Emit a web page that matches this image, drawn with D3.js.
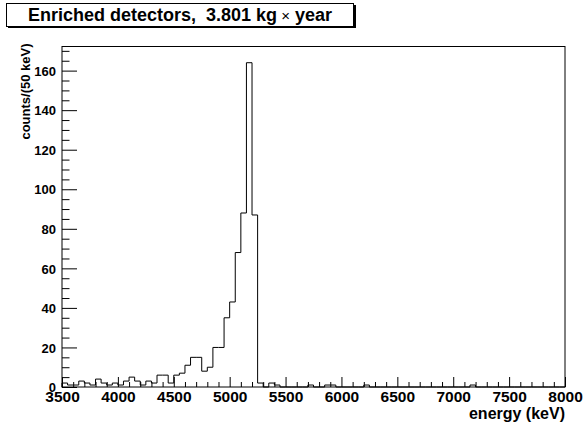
<!DOCTYPE html>
<html>
<head>
<meta charset="utf-8">
<script src="https://cdn.jsdelivr.net/npm/d3@7"></script>
<style>
  body { margin: 0; background: #fff; }
  text { font-family: "Liberation Sans", Arial, Helvetica, sans-serif; font-weight: bold; fill: #000; }
</style>
</head>
<body>
<script>
var svgWidth = 585;
var svgHeight = 424;

// frame edges (ROOT pad frame)
var frame = { left: 62, right: 565, top: 46.5, bottom: 387 };

// histogram: 50 keV bins starting at 3500 keV
var binStart = 3500;
var binWidth = 50;
var counts = [
    2, 1, 1, 3, 2, 1, 4, 2, 1, 2,        // 3500 - 3950
    1, 3, 5, 3, 1, 3, 2, 6, 6, 2,        // 4000 - 4450
    6, 7, 11, 15, 15, 8, 10, 20, 20, 35, // 4500 - 4950
    43, 68, 88, 164, 87, 2, 0, 2, 1, 0,  // 5000 - 5450
    0, 0, 0, 0, 1, 0, 0, 1, 1, 0,        // 5500 - 5950
    0, 0, 0, 0, 1, 0, 0, 0, 0, 0,        // 6000 - 6450
    0, 0, 0, 0, 0, 0, 0, 0, 0, 0,        // 6500 - 6950
    0, 0, 0, 1, 0, 0, 0, 0, 0, 0,        // 7000 - 7450
    0, 0, 0, 0, 0, 0, 0, 0, 0, 0         // 7500 - 7950
];

var xMajorTicks = [3500, 4000, 4500, 5000, 5500, 6000, 6500, 7000, 7500, 8000];
var yMajorTicks = [0, 20, 40, 60, 80, 100, 120, 140, 160];

var titleText = "Enriched detectors,  3.801 kg";
var titleTail = " year";
var xTitle = "energy (keV)";
var yTitle = "counts/(50 keV)";

var svg = d3.select("body")
            .append("svg")
            .attr("width", svgWidth)
            .attr("height", svgHeight);

var xScale = d3.scaleLinear()
               .domain([3500, 8000])
               .range([frame.left, frame.right]);

var yScale = d3.scaleLinear()
               .domain([0, d3.max(counts) * 1.05])
               .range([frame.bottom, frame.top]);

// minor ticks
var xMinor = d3.range(3500, 8001, 100).filter(v => v % 500 !== 0);
var yMinor = d3.range(0, yScale.domain()[1], 5).filter(v => v % 20 !== 0);

var xAxisG = svg.append("g")
                .attr("transform", `translate(0, ${frame.bottom})`);
xAxisG.append("g")
      .call(d3.axisBottom(xScale).tickValues(xMinor).tickSize(-5).tickFormat(""));
xAxisG.append("g")
      .attr("class", "xmajor")
      .call(d3.axisBottom(xScale).tickValues(xMajorTicks).tickSize(-10).tickPadding(5).tickFormat(d3.format("d")));

var yAxisG = svg.append("g")
                .attr("transform", `translate(${frame.left}, 0)`);
yAxisG.append("g")
      .call(d3.axisLeft(yScale).tickValues(yMinor).tickSize(-7.5).tickFormat(""));
yAxisG.append("g")
      .attr("class", "ymajor")
      .call(d3.axisLeft(yScale).tickValues(yMajorTicks).tickSize(-15).tickPadding(6).tickFormat(d3.format("d")));

svg.selectAll(".domain").remove();
svg.selectAll(".tick line").attr("stroke", "#000").attr("stroke-width", 1);
svg.selectAll(".xmajor text").style("font-size", "15.5px").attr("dy", "0.72em").attr("y", 4);
svg.selectAll(".ymajor text").style("font-size", "13px").attr("dy", "0.36em");

// histogram outline
var pts = [[binStart, 0]];
counts.forEach((c, i) => pts.push([binStart + i * binWidth, c]));
pts.push([binStart + counts.length * binWidth, counts[counts.length - 1]]);
pts.push([binStart + counts.length * binWidth, 0]);

var histLine = d3.line()
                 .x(d => xScale(d[0]))
                 .y(d => yScale(d[1]))
                 .curve(d3.curveStepAfter);

svg.append("path")
   .datum(pts)
   .attr("d", histLine)
   .attr("fill", "none")
   .attr("stroke", "#000")
   .attr("stroke-width", 1);

// frame
svg.append("rect")
   .attr("x", frame.left)
   .attr("y", frame.top)
   .attr("width", frame.right - frame.left)
   .attr("height", frame.bottom - frame.top)
   .attr("fill", "none")
   .attr("stroke", "#000")
   .attr("stroke-width", 1);

// axis titles
svg.append("text")
   .attr("x", frame.right)
   .attr("y", 419)
   .attr("text-anchor", "end")
   .style("font-size", "16px")
   .text(xTitle);

svg.append("text")
   .attr("transform", `translate(30, ${frame.top - 3}) rotate(-90)`)
   .attr("text-anchor", "end")
   .style("font-size", "13px")
   .text(yTitle);

// title pave with shadow
svg.append("rect")
   .attr("x", 8).attr("y", 5)
   .attr("width", 348).attr("height", 23)
   .attr("fill", "#000");
svg.append("rect")
   .attr("x", 6.5).attr("y", 3.5)
   .attr("width", 347).attr("height", 23)
   .attr("fill", "#fff")
   .attr("stroke", "#000")
   .attr("stroke-width", 1);

var title = svg.append("text")
               .attr("x", 180)
               .attr("y", 21)
               .attr("text-anchor", "middle")
               .style("white-space", "pre")
               .style("font-size", "18px");
title.append("tspan").text(titleText);
title.append("tspan").style("font-weight", "normal").style("font-size", "15px").text(" \u00d7");
title.append("tspan").text(titleTail);
</script>
</body>
</html>
